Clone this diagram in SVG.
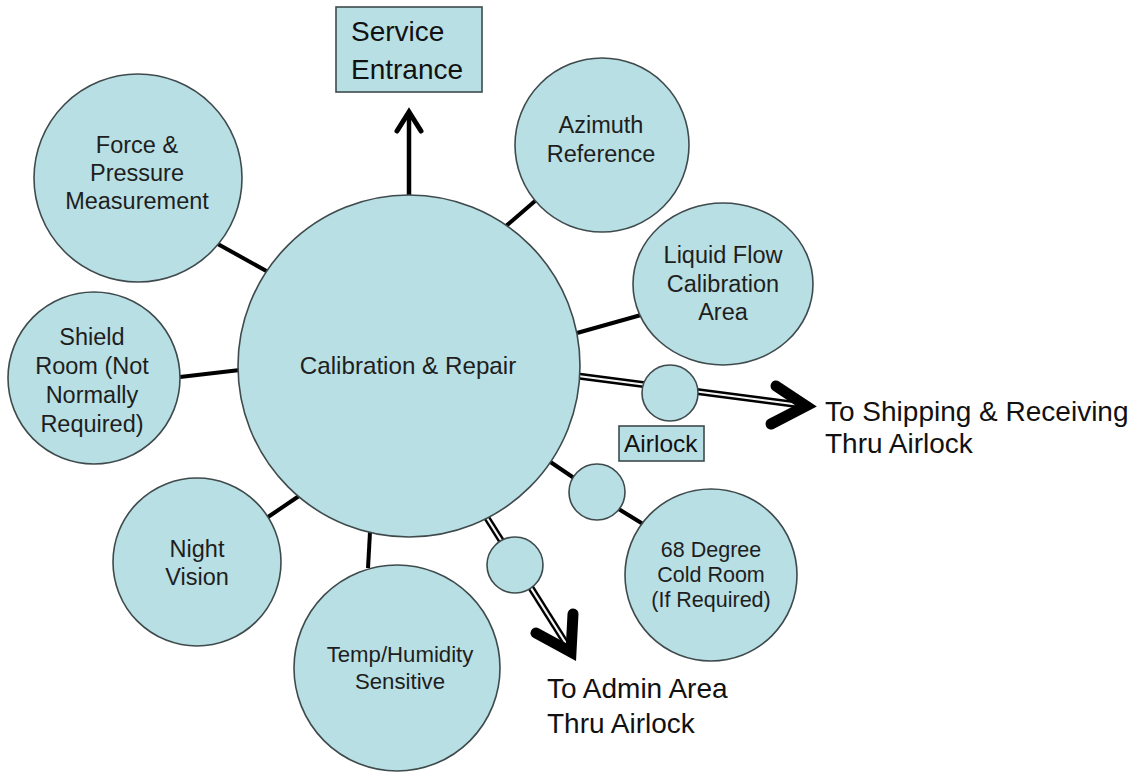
<svg xmlns="http://www.w3.org/2000/svg" width="1141" height="775" viewBox="0 0 1141 775">
<style>
.n{fill:#b8dfe3;stroke:#3f4a4c;stroke-width:1.6}
.t{font-family:"Liberation Sans",Arial,sans-serif;fill:#1e1e1e;text-anchor:middle}
.s{font-size:23.5px}
.l{font-family:"Liberation Sans",Arial,sans-serif;fill:#111;font-size:28px}
.c{stroke:#000;stroke-width:4;fill:none}
.dl{stroke:#000;stroke-width:7;fill:none}
.dw{stroke:#f4f4f4;stroke-width:2.2;fill:none}
.ah{stroke:#000;fill:none;stroke-linecap:round;stroke-linejoin:miter;stroke-miterlimit:10}
</style>
<rect width="1141" height="775" fill="#fff"/>
<g id="connectors">
<line class="c" x1="216" y1="243" x2="270" y2="273"/>
<line class="c" x1="180" y1="377" x2="240" y2="370"/>
<line class="c" x1="542" y1="195" x2="506" y2="226"/>
<line class="c" x1="577" y1="333" x2="641" y2="315"/>
<line class="c" x1="268" y1="517" x2="299" y2="496"/>
<line class="c" x1="370" y1="532" x2="368" y2="568"/>
<line class="c" x1="546" y1="459" x2="574" y2="478"/>
<line class="c" x1="617" y1="508" x2="643" y2="524"/>
<line stroke="#000" stroke-width="4.5" x1="409" y1="196" x2="409" y2="114"/>
<polyline class="ah" stroke-width="5" points="397,131 409,112 421,131"/>
<line class="dl" x1="578" y1="376" x2="808" y2="406"/>
<line class="dw" x1="578" y1="376" x2="808" y2="406"/>
<line class="dl" x1="487" y1="518" x2="572" y2="653"/>
<line class="dw" x1="487" y1="518" x2="572" y2="653"/>
</g>
<g id="main">
<circle class="n" cx="409" cy="366" r="171"/>
<text class="t" x="408" y="374" font-size="24.2">Calibration &amp; Repair</text>
</g>
<g id="force">
<circle class="n" cx="138" cy="178" r="104"/>
<text class="t s" x="137" y="153">Force &amp;</text>
<text class="t s" x="137" y="181">Pressure</text>
<text class="t s" x="137" y="209">Measurement</text>
</g>
<g id="shield">
<circle class="n" cx="94" cy="378" r="86"/>
<text class="t s" x="92" y="345">Shield</text>
<text class="t s" x="92" y="374">Room (Not</text>
<text class="t s" x="92" y="403">Normally</text>
<text class="t s" x="92" y="432">Required)</text>
</g>
<g id="azimuth">
<circle class="n" cx="602" cy="145" r="87"/>
<text class="t s" x="601" y="133">Azimuth</text>
<text class="t s" x="601" y="162">Reference</text>
</g>
<g id="liquid">
<ellipse class="n" cx="723" cy="284" rx="90" ry="81"/>
<text class="t s" x="723" y="263">Liquid Flow</text>
<text class="t s" x="723" y="292">Calibration</text>
<text class="t s" x="723" y="320">Area</text>
</g>
<g id="night">
<circle class="n" cx="197" cy="562" r="84"/>
<text class="t s" x="197" y="557">Night</text>
<text class="t s" x="197" y="585">Vision</text>
</g>
<g id="temp">
<circle class="n" cx="397" cy="668" r="103"/>
<text class="t" x="400" y="662" font-size="22.2">Temp/Humidity</text>
<text class="t" x="400" y="689" font-size="22.2">Sensitive</text>
</g>
<g id="cold">
<circle class="n" cx="711" cy="575" r="86"/>
<text class="t" x="711" y="557" font-size="21.5">68 Degree</text>
<text class="t" x="711" y="582" font-size="21.5">Cold Room</text>
<text class="t" x="711" y="607" font-size="21.5">(If Required)</text>
</g>
<g id="airlock-ship">
<circle class="n" cx="670" cy="393" r="28"/>
</g>
<g id="airlock-cold">
<circle class="n" cx="597" cy="492" r="28"/>
</g>
<g id="airlock-admin">
<circle class="n" cx="515" cy="565" r="28"/>
</g>
<g id="arrowheads">
<polyline class="ah" stroke-width="11" points="776,386 806,406 771,424"/>
<polyline class="ah" stroke-width="11" points="536,633 571,652 573,614"/>
</g>
<g id="service">
<rect class="n" x="336" y="7" width="146" height="85"/>
<text class="l" x="351" y="41">Service</text>
<text class="l" x="351" y="79">Entrance</text>
</g>
<g id="airlock-label">
<rect class="n" x="619" y="426" width="85" height="35"/>
<text class="l" x="624" y="452" style="font-size:24.5px">Airlock</text>
</g>
<g id="labels">
<text class="l" x="825" y="421">To Shipping &amp; Receiving</text>
<text class="l" x="825" y="453">Thru Airlock</text>
<text class="l" x="547" y="698">To Admin Area</text>
<text class="l" x="547" y="733">Thru Airlock</text>
</g>
</svg>
